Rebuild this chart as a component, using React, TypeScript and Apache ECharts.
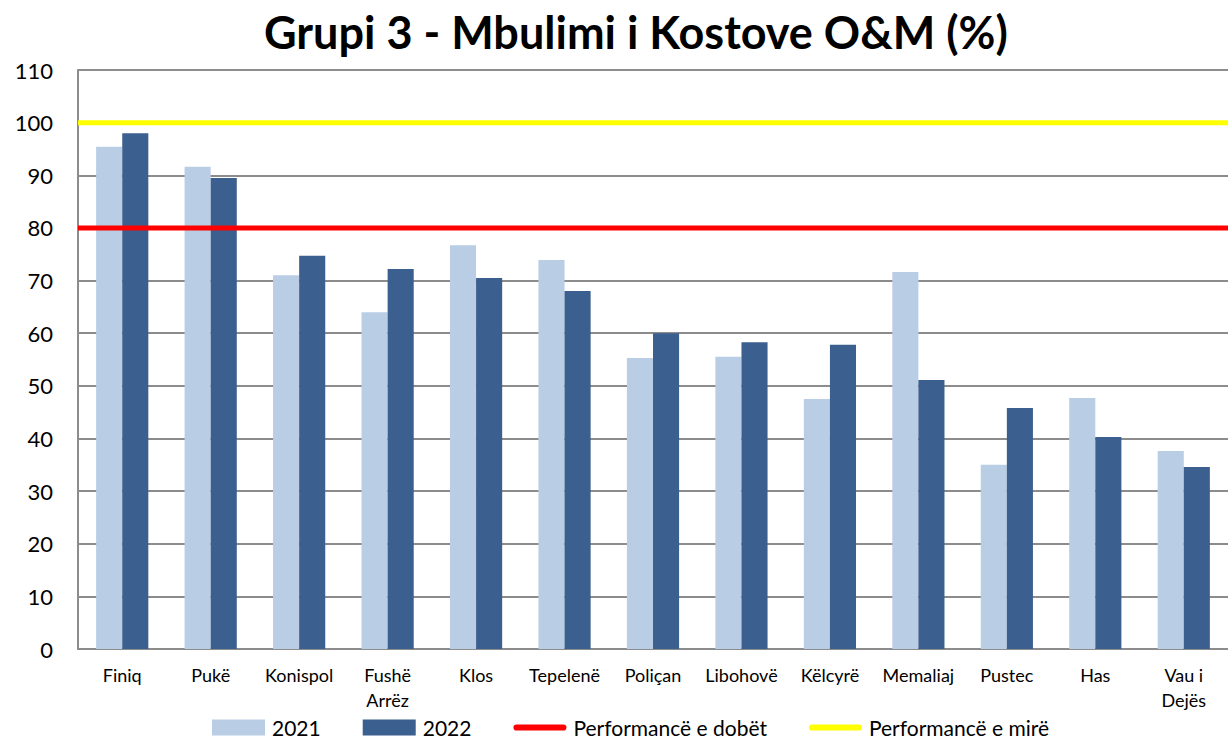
import React, { useEffect, useRef } from "react";
import * as echarts from "echarts";

const categories = ["Finiq", "Pukë", "Konispol", "Fushë\nArrëz", "Klos", "Tepelenë", "Poliçan", "Libohovë", "Këlcyrë", "Memaliaj", "Pustec", "Has", "Vau i\nDejës"];
const values2021 = [95.4, 91.6, 71.0, 64.0, 76.7, 73.9, 55.3, 55.5, 47.5, 71.6, 35.0, 47.7, 37.6];
const values2022 = [98.0, 89.5, 74.7, 72.2, 70.5, 68.0, 60.0, 58.3, 57.8, 51.1, 45.8, 40.3, 34.6];
const poorLevel = 80;
const goodLevel = 100;
const yTicks = { min: 0, max: 110, interval: 10 };
const title = "Grupi 3 - Mbulimi i Kostove O&M (%)";
const seriesNames = ["2021", "2022", "Performancë e dobët", "Performancë e mirë"];

const FONT = "Lato, 'Open Sans', sans-serif";
const LINE_ICON = "path://M3,0h45a3,3 0 0 1 0,6h-45a3,3 0 0 1 0,-6z";

export default function App() {
  const ref = useRef<HTMLDivElement>(null);
  useEffect(() => {
    if (!ref.current) return;
    const chart = echarts.init(ref.current, null, { renderer: "svg" });
    chart.setOption({
      animation: false,
      backgroundColor: "#ffffff",
      title: {
        text: title,
        left: 264,
        top: 9,
        padding: 0,
        textStyle: { fontFamily: FONT, fontSize: 45, fontWeight: "bold", color: "#000" },
      },
      legend: {
        left: 212,
        top: 717,
        padding: 0,
        itemGap: 42,
        itemWidth: 53,
        itemHeight: 16,
        textStyle: { fontFamily: FONT, fontSize: 21, lineHeight: 20, color: "#000", padding: [0, 0, 0, 2] },
        data: [
          { name: seriesNames[0], icon: "rect" },
          { name: seriesNames[1], icon: "rect" },
          { name: seriesNames[2], icon: LINE_ICON, itemStyle: { color: "#ff0000", borderWidth: 0 } },
          { name: seriesNames[3], icon: LINE_ICON, itemStyle: { color: "#ffff00", borderWidth: 0 } },
        ],
      },
      grid: { left: 78, right: 0, top: 70, bottom: 93, containLabel: false },
      xAxis: [
        {
          type: "category",
          data: categories,
          axisLine: { lineStyle: { color: "#8c8c8c", width: 2 } },
          axisTick: { show: false },
          axisLabel: { fontFamily: FONT, fontSize: 18, color: "#000", margin: 13, lineHeight: 25, interval: 0 },
        },
        { type: "value", min: 0, max: 1, show: false },
      ],
      yAxis: {
        type: "value",
        min: yTicks.min,
        max: yTicks.max,
        interval: yTicks.interval,
        axisLine: { show: true, lineStyle: { color: "#8c8c8c", width: 2 } },
        axisTick: { show: false },
        splitLine: { lineStyle: { color: "#8c8c8c", width: 2 } },
        axisLabel: { fontFamily: FONT, fontSize: 22, color: "#000", margin: 25 },
      },
      series: [
        {
          name: seriesNames[0],
          type: "bar",
          data: values2021,
          barGap: "0%",
          barCategoryGap: "41%",
          itemStyle: { color: "#b9cde5" },
        },
        {
          name: seriesNames[1],
          type: "bar",
          data: values2022,
          itemStyle: { color: "#3b5f8e" },
        },
        {
          name: seriesNames[2],
          type: "line",
          xAxisIndex: 1,
          data: [[0, poorLevel], [1, poorLevel]],
          symbol: "none",
          lineStyle: { color: "#ff0000", width: 5 },
          itemStyle: { color: "#ff0000" },
          z: 5,
        },
        {
          name: seriesNames[3],
          type: "line",
          xAxisIndex: 1,
          data: [[0, goodLevel], [1, goodLevel]],
          symbol: "none",
          lineStyle: { color: "#ffff00", width: 5 },
          itemStyle: { color: "#ffff00" },
          z: 5,
        },
      ],
    });
    return () => chart.dispose();
  }, []);
  return <div ref={ref} style={{ position: "fixed", left: 0, top: 0, width: 1228, height: 742 }} />;
}
